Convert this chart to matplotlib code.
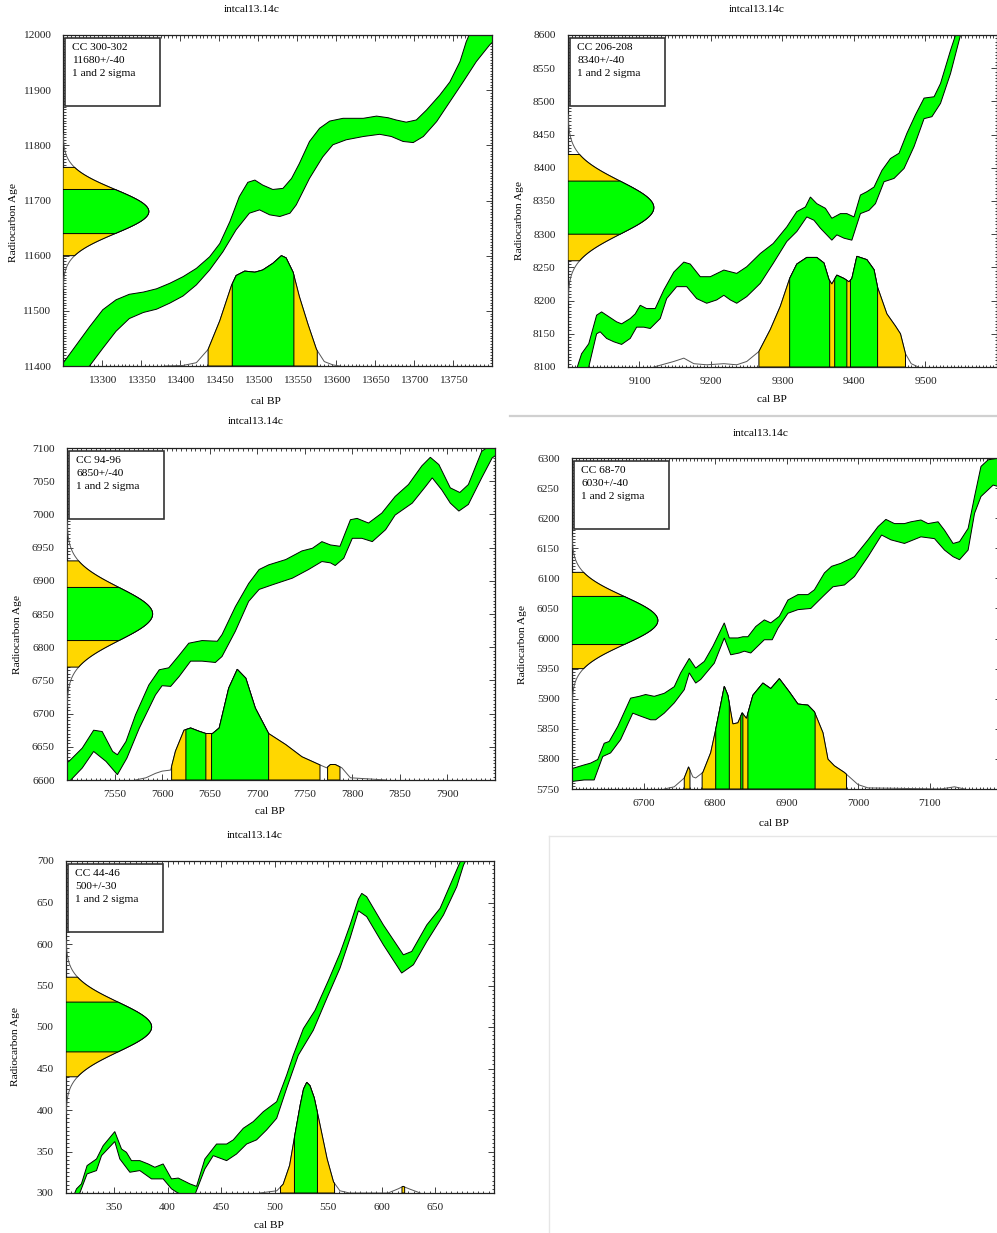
import numpy as np
import matplotlib
matplotlib.use('Agg')
import matplotlib.pyplot as plt
from matplotlib.ticker import MultipleLocator
from matplotlib.patches import Rectangle
from matplotlib.lines import Line2D

plt.rcParams['font.family'] = ['Liberation Serif', 'DejaVu Serif']

#cores
verde = '#00ff00'
amarelo = '#ffd700'
cinza = '#555555'

#-------------------------------------------------------------------------------
#painel 1 - CC 300-302
p1_label = 'CC 300-302'
p1_age, p1_err = 11680, 40
p1_up_x = [13235, 13250, 13267, 13284, 13301, 13318, 13335, 13353, 13370, 13387, 13404, 13421, 13438, 13451, 13464,
           13476, 13487, 13496, 13506, 13519, 13532, 13543, 13553, 13566, 13579, 13592, 13609, 13635, 13652, 13667,
           13677, 13690, 13703, 13716, 13733, 13746, 13759, 13767, 13780]
p1_up_y = [11380, 11405, 11438, 11471, 11502, 11520, 11530, 11534, 11540, 11550, 11562, 11577, 11598, 11622, 11662,
           11707, 11733, 11737, 11728, 11720, 11722, 11740, 11767, 11807, 11831, 11844, 11849, 11849, 11853, 11850,
           11846, 11842, 11846, 11864, 11891, 11915, 11952, 11988, 12030]
p1_lo_x = [13270, 13284, 13301, 13318, 13335, 13353, 13370, 13387, 13404, 13421, 13438, 13455, 13472, 13489, 13502,
           13515, 13528, 13541, 13549, 13566, 13583, 13596, 13613, 13635, 13656, 13671, 13686, 13699, 13712, 13729,
           13746, 13763, 13780, 13797, 13806, 13830]
p1_lo_y = [11375, 11400, 11432, 11463, 11486, 11497, 11503, 11514, 11527, 11547, 11574, 11607, 11647, 11677, 11683,
           11674, 11671, 11677, 11692, 11740, 11779, 11801, 11810, 11816, 11820, 11816, 11807, 11805, 11816, 11843,
           11879, 11915, 11952, 11982, 11994, 12030]
p1_prob_x = [13380, 13404, 13421, 13436, 13451, 13466, 13472, 13483, 13496, 13506, 13519, 13530, 13536, 13545, 13553,
             13564, 13575, 13585, 13596, 13605]
p1_prob = [0, 0.005, 0.03, 0.15, 0.41, 0.73, 0.82, 0.86, 0.85, 0.87, 0.93, 1.0, 0.98, 0.85, 0.63,
           0.38, 0.15, 0.04, 0.01, 0]
p1_2s = [(13436, 13576)]
p1_1s = [(13467, 13546)]

#painel 2 - CC 206-208
p2_label = 'CC 206-208'
p2_age, p2_err = 8340, 40
p2_up_x = [9010, 9019, 9029, 9040, 9047, 9054, 9068, 9075, 9087, 9094, 9101, 9110, 9122, 9134, 9148, 9162, 9171, 9185,
           9199, 9218, 9236, 9250, 9269, 9287, 9306, 9320, 9332, 9339, 9348, 9360, 9369, 9381, 9390, 9400, 9409, 9418,
           9428, 9439, 9451, 9463, 9474, 9486, 9498, 9512, 9521, 9535, 9542, 9548]
p2_up_y = [8090, 8120, 8135, 8178, 8183, 8178, 8168, 8165, 8173, 8180, 8193, 8188, 8188, 8216, 8243, 8258, 8255, 8236,
           8236, 8246, 8241, 8251, 8271, 8286, 8311, 8334, 8341, 8356, 8346, 8339, 8324, 8331, 8331, 8326, 8359, 8364,
           8371, 8396, 8414, 8422, 8452, 8480, 8505, 8507, 8527, 8577, 8600, 8620]
p2_lo_x = [9025, 9029, 9040, 9045, 9054, 9064, 9075, 9087, 9096, 9106, 9115, 9129, 9138, 9152, 9166, 9180, 9194, 9208,
           9218, 9227, 9236, 9250, 9269, 9287, 9306, 9320, 9334, 9344, 9353, 9369, 9376, 9386, 9397, 9409, 9421, 9430,
           9442, 9456, 9470, 9484, 9498, 9509, 9521, 9535, 9549, 9555]
p2_lo_y = [8085, 8100, 8150, 8153, 8143, 8138, 8134, 8143, 8160, 8160, 8158, 8173, 8203, 8221, 8221, 8203, 8196, 8201,
           8208, 8201, 8196, 8206, 8226, 8256, 8289, 8304, 8326, 8321, 8309, 8291, 8299, 8294, 8291, 8331, 8336, 8346,
           8379, 8384, 8399, 8432, 8474, 8477, 8497, 8542, 8600, 8620]
p2_prob_x = [9120, 9148, 9162, 9176, 9194, 9218, 9236, 9250, 9267, 9283, 9297, 9310, 9320, 9334, 9348, 9358, 9365,
             9369, 9376, 9386, 9393, 9397, 9404, 9418, 9428, 9433, 9446, 9458, 9465, 9472, 9480, 9490]
p2_prob = [0, 0.05, 0.08, 0.03, 0.02, 0.03, 0.02, 0.05, 0.14, 0.34, 0.55, 0.8, 0.93, 0.99, 0.99, 0.94, 0.79,
           0.75, 0.83, 0.8, 0.77, 0.8, 1.0, 0.97, 0.88, 0.72, 0.48, 0.37, 0.3, 0.12, 0.03, 0]
p2_2s = [(9267, 9472)]
p2_1s = [(9310, 9366), (9373, 9390), (9395, 9433)]

#painel 3 - CC 94-96
p3_label = 'CC 94-96'
p3_age, p3_err = 6850, 40
p3_up_x = [7485, 7502, 7516, 7528, 7537, 7548, 7553, 7562, 7572, 7586, 7597, 7607, 7618, 7628, 7642, 7658, 7663,
           7677, 7691, 7702, 7712, 7730, 7747, 7758, 7768, 7777, 7787, 7798, 7805, 7817, 7831, 7845, 7859, 7873,
           7882, 7891, 7903, 7913, 7922, 7936, 7941, 7950, 7960]
p3_up_y = [6615, 6628, 6648, 6675, 6673, 6643, 6638, 6658, 6698, 6743, 6766, 6769, 6788, 6806, 6810, 6809, 6819,
           6861, 6896, 6917, 6924, 6932, 6945, 6949, 6959, 6954, 6952, 6992, 6994, 6987, 7002, 7027, 7045, 7073,
           7086, 7075, 7040, 7033, 7045, 7095, 7100, 7110, 7120]
p3_lo_x = [7495, 7504, 7516, 7528, 7541, 7553, 7563, 7576, 7593, 7600, 7609, 7618, 7630, 7642, 7656, 7663, 7677,
           7691, 7702, 7716, 7737, 7754, 7768, 7777, 7782, 7791, 7800, 7810, 7821, 7835, 7845, 7863, 7877, 7884,
           7894, 7903, 7912, 7922, 7936, 7947, 7952, 7965]
p3_lo_y = [6585, 6600, 6618, 6643, 6628, 6608, 6633, 6678, 6728, 6742, 6741, 6756, 6779, 6779, 6777, 6786, 6824,
           6869, 6887, 6894, 6904, 6917, 6929, 6927, 6923, 6934, 6964, 6964, 6959, 6977, 6999, 7017, 7042, 7055,
           7037, 7017, 7005, 7015, 7055, 7085, 7090, 7120]
p3_prob_x = [7572, 7583, 7593, 7600, 7609, 7614, 7623, 7630, 7639, 7646, 7653, 7660, 7670, 7679, 7688, 7698, 7712,
             7730, 7747, 7765, 7773, 7777, 7782, 7789, 7798, 7817, 7835]
p3_prob = [0, 0.02, 0.06, 0.08, 0.09, 0.26, 0.45, 0.47, 0.44, 0.42, 0.42, 0.47, 0.83, 1.0, 0.92, 0.65, 0.42,
           0.32, 0.21, 0.14, 0.11, 0.14, 0.14, 0.11, 0.02, 0.01, 0]
p3_2s = [(7610, 7766), (7774, 7787)]
p3_1s = [(7625, 7646), (7652, 7712)]

#painel 4 - CC 68-70
p4_label = 'CC 68-70'
p4_age, p4_err = 6030, 40
p4_up_x = [6590, 6603, 6617, 6626, 6636, 6645, 6652, 6664, 6682, 6694, 6703, 6715, 6729, 6743, 6752, 6764, 6773,
           6785, 6797, 6813, 6820, 6832, 6839, 6846, 6857, 6869, 6878, 6890, 6902, 6916, 6930, 6939, 6953, 6963,
           6976, 6995, 7014, 7028, 7039, 7051, 7065, 7074, 7088, 7098, 7112, 7121, 7133, 7142, 7154, 7163, 7172,
           7182, 7198, 7210]
p4_up_y = [5782, 5785, 5790, 5793, 5799, 5826, 5829, 5854, 5901, 5904, 5907, 5904, 5909, 5920, 5943, 5967, 5951,
           5962, 5987, 6026, 6001, 6001, 6003, 6003, 6020, 6031, 6026, 6037, 6064, 6073, 6073, 6081, 6109, 6120,
           6125, 6136, 6164, 6186, 6198, 6191, 6191, 6194, 6197, 6191, 6194, 6180, 6158, 6161, 6183, 6236, 6286,
           6297, 6300, 6310]
p4_lo_x = [6590, 6603, 6617, 6631, 6643, 6654, 6668, 6685, 6696, 6710, 6717, 6729, 6743, 6757, 6764, 6773, 6780,
           6799, 6813, 6822, 6834, 6841, 6850, 6869, 6880, 6888, 6902, 6916, 6934, 6951, 6965, 6981, 6995, 7014,
           7033, 7046, 7065, 7088, 7107, 7121, 7133, 7142, 7154, 7163, 7172, 7189, 7198, 7210]
p4_lo_y = [5760, 5763, 5765, 5765, 5804, 5810, 5832, 5876, 5871, 5865, 5865, 5876, 5893, 5915, 5943, 5926, 5932,
           5959, 6001, 5973, 5976, 5979, 5976, 5998, 5998, 6017, 6042, 6048, 6050, 6070, 6086, 6089, 6103, 6136,
           6172, 6164, 6158, 6169, 6166, 6147, 6136, 6131, 6147, 6208, 6236, 6255, 6252, 6250]
p4_prob_x = [6729, 6743, 6757, 6763, 6769, 6773, 6783, 6794, 6801, 6813, 6818, 6825, 6832, 6838, 6844, 6853, 6867,
             6878, 6890, 6904, 6916, 6930, 6939, 6951, 6958, 6967, 6981, 7000, 7014, 7116, 7135, 7149]
p4_prob = [0, 0.02, 0.1, 0.2, 0.11, 0.1, 0.15, 0.33, 0.54, 0.93, 0.85, 0.59, 0.6, 0.69, 0.64, 0.85, 0.96,
           0.91, 1.0, 0.88, 0.77, 0.76, 0.7, 0.51, 0.27, 0.21, 0.15, 0.04, 0.01, 0, 0.02, 0]
p4_2s = [(6757, 6765), (6782, 6984)]
p4_1s = [(6801, 6820), (6836, 6839), (6846, 6940)]

#painel 5 - CC 44-46
p5_label = 'CC 44-46'
p5_age, p5_err = 500, 30
p5_up_x = [310, 314.8, 319.4, 324.7, 333.5, 339.7, 350.6, 356.9, 361.5, 366.2, 374, 381.8, 388, 395.8, 403.6, 409.9,
           420.8, 427, 434.8, 445.7, 455.1, 461.3, 470.7, 480, 489.4, 501.9, 511.2, 517.4, 526.8, 537.7, 550.2,
           561.1, 570.5, 578.3, 581.4, 586, 601.6, 620.3, 628.1, 642.2, 654.6, 664, 673.4, 680]
p5_up_y = [290, 305, 311, 333, 341, 357, 374, 353, 349, 339, 339, 335, 331, 335, 317, 318,
           311, 308, 341, 359, 359, 364, 378, 386, 398, 410, 442, 466, 498, 520, 556,
           589, 623, 654, 661, 657, 623, 587, 591, 623, 643, 671, 699, 720]
p5_lo_x = [315, 317.9, 324.7, 333.5, 338.2, 350.6, 355.3, 364.7, 374, 384.9, 395.8, 403.6, 408.3, 416, 425.5, 434.8,
           442.6, 455.1, 464.4, 473.8, 483.1, 492.5, 501.9, 511.2, 522.1, 536.1, 548.6, 561.1, 570.5, 578.3, 586,
           601.6, 618.7, 629.7, 642.2, 657.8, 670.2, 676.5, 679.6, 690]
p5_lo_y = [290, 300, 323, 327, 345, 362, 341, 325, 327, 317, 317, 305, 301, 296, 298, 329,
           345, 339, 347, 359, 364, 376, 390, 426, 466, 496, 534, 571, 607, 640, 633,
           599, 565, 575, 603, 635, 669, 695, 703, 720]
p5_prob_x = [486, 502, 508, 514, 519, 524, 527, 530, 533, 537, 541, 549, 555, 561, 570, 606, 616, 620, 625, 636]
p5_prob = [0, 0.02, 0.08, 0.25, 0.53, 0.8, 0.94, 1.0, 0.97, 0.86, 0.68, 0.31, 0.1, 0.02, 0, 0, 0.04, 0.06, 0.04, 0]
p5_2s = [(505.5, 556), (619, 621.5)]
p5_1s = [(518.5, 540)]

#-------------------------------------------------------------------------------
W, H = 997, 1233
fig = plt.figure(figsize=(W / 100, H / 100), dpi=100)
fig.patch.set_facecolor('white')


def fig_text(x, y, s, **kw):
    fig.text(x / W, 1 - y / H, s, ha='center', va='center', fontsize=8.2, **kw)


def desenhar(box, xlim, ylim, xticks, yticks, up_x, up_y, lo_x, lo_y, prob_x, prob,
             reg2, reg1, label, age, err, title_pos, xlab_pos, ylab_pos):
    l, t, r, b = box
    ax = fig.add_axes([l / W, 1 - b / H, (r - l) / W, (b - t) / H])
    ax.set_xlim(xlim)
    ax.set_ylim(ylim)

    #curva de calibracao
    ax.fill(list(up_x) + list(lo_x)[::-1], list(up_y) + list(lo_y)[::-1],
            facecolor=verde, edgecolor='black', lw=0.7, zorder=2)

    #distribuicao da idade radiocarbono (eixo y)
    gw = 0.2 * (xlim[1] - xlim[0])
    yy = np.linspace(age - 3.5 * err, age + 3.5 * err, 300)
    ax.plot(xlim[0] + gw * np.exp(-0.5 * ((yy - age) / err) ** 2), yy, color=cinza, lw=0.7, zorder=3)
    for k, c in ((2, amarelo), (1, verde)):
        ys = np.linspace(age - k * err, age + k * err, 200)
        xs = xlim[0] + gw * np.exp(-0.5 * ((ys - age) / err) ** 2)
        ax.fill(np.r_[xlim[0], xs, xlim[0]], np.r_[ys[0], ys, ys[-1]],
                facecolor=c, edgecolor='black', lw=0.7, zorder=3)

    #distribuicao calibrada (eixo x)
    ph = (ylim[1] - ylim[0]) / 3
    base = ylim[0]
    prob = np.array(prob, dtype=float)
    ax.plot(prob_x, base + ph * prob, color=cinza, lw=0.7, zorder=3)
    for regs, c in ((reg2, amarelo), (reg1, verde)):
        for a, bb in regs:
            xs = [a] + [x for x in prob_x if a < x < bb] + [bb]
            ps = np.interp(xs, prob_x, prob)
            ax.fill([a] + xs + [bb], np.r_[base, base + ph * ps, base],
                    facecolor=c, edgecolor='black', lw=0.7, zorder=3)

    #caixa de texto
    ax.add_patch(Rectangle((0.005, 0.785), 0.222, 0.205, transform=ax.transAxes,
                           facecolor='white', edgecolor='#333333', lw=1.2, zorder=5))
    for i, s in enumerate([label, f'{age}+/-{err}', '1 and 2 sigma']):
        ax.text(0.022, 0.963 - i * 0.04, s, transform=ax.transAxes, fontsize=8.2,
                va='center', ha='left', zorder=6)

    #eixos
    ax.set_xticks(xticks)
    ax.set_yticks(yticks)
    ax.xaxis.set_minor_locator(MultipleLocator(5))
    ax.yaxis.set_minor_locator(MultipleLocator(5))
    ax.tick_params(which='both', direction='in', top=True, right=True, width=0.6, colors='#222222')
    ax.tick_params(which='major', length=4.5, labelsize=8.2)
    ax.tick_params(which='minor', length=1.8)
    ax.tick_params(axis='y', pad=9)
    ax.tick_params(axis='x', pad=7)
    for sp in ax.spines.values():
        sp.set_linewidth(0.9)
        sp.set_color('#222222')

    fig_text(*title_pos, 'intcal13.14c')
    fig_text(*xlab_pos, 'cal BP')
    fig_text(*ylab_pos, 'Radiocarbon Age', rotation=90)
    return ax


desenhar((63, 35, 492, 366), (13250, 13800), (11400, 12000), np.arange(13300, 13751, 50),
         np.arange(11400, 12001, 100), p1_up_x, p1_up_y, p1_lo_x, p1_lo_y, p1_prob_x, p1_prob,
         p1_2s, p1_1s, p1_label, p1_age, p1_err, (252, 10), (266, 401), (14, 222))

desenhar((568, 35, 997, 367), (9000, 9600), (8100, 8600), np.arange(9100, 9501, 100),
         np.arange(8100, 8601, 50), p2_up_x, p2_up_y, p2_lo_x, p2_lo_y, p2_prob_x, p2_prob,
         p2_2s, p2_1s, p2_label, p2_age, p2_err, (757, 10), (772, 400), (519, 221))

desenhar((67, 448, 495, 780), (7500, 7950), (6600, 7100), np.arange(7550, 7901, 50),
         np.arange(6600, 7101, 50), p3_up_x, p3_up_y, p3_lo_x, p3_lo_y, p3_prob_x, p3_prob,
         p3_2s, p3_1s, p3_label, p3_age, p3_err, (256, 422), (270, 812), (18, 634))

desenhar((572, 458, 1001, 789), (6600, 7200), (5750, 6300), np.arange(6700, 7101, 100),
         np.arange(5750, 6301, 50), p4_up_x, p4_up_y, p4_lo_x, p4_lo_y, p4_prob_x, p4_prob,
         p4_2s, p4_1s, p4_label, p4_age, p4_err, (761, 433), (774, 823), (522, 644))

desenhar((66, 861, 494, 1193), (305, 705), (300, 700), np.arange(350, 651, 50),
         np.arange(300, 701, 50), p5_up_x, p5_up_y, p5_lo_x, p5_lo_y, p5_prob_x, p5_prob,
         p5_2s, p5_1s, p5_label, p5_age, p5_err, (255, 836), (269, 1226), (16, 1047))

#linhas separadoras da pagina
fig.add_artist(Line2D([510 / W, 1], [1 - 415.5 / H] * 2, color='#d0d0d0', lw=1.6))
fig.add_artist(Line2D([549 / W, 1], [1 - 836 / H] * 2, color='#e6e6e6', lw=1.0))
fig.add_artist(Line2D([549 / W, 549 / W], [1 - 836 / H, 0], color='#e6e6e6', lw=1.0))

fig.savefig('out.png', dpi=100)
